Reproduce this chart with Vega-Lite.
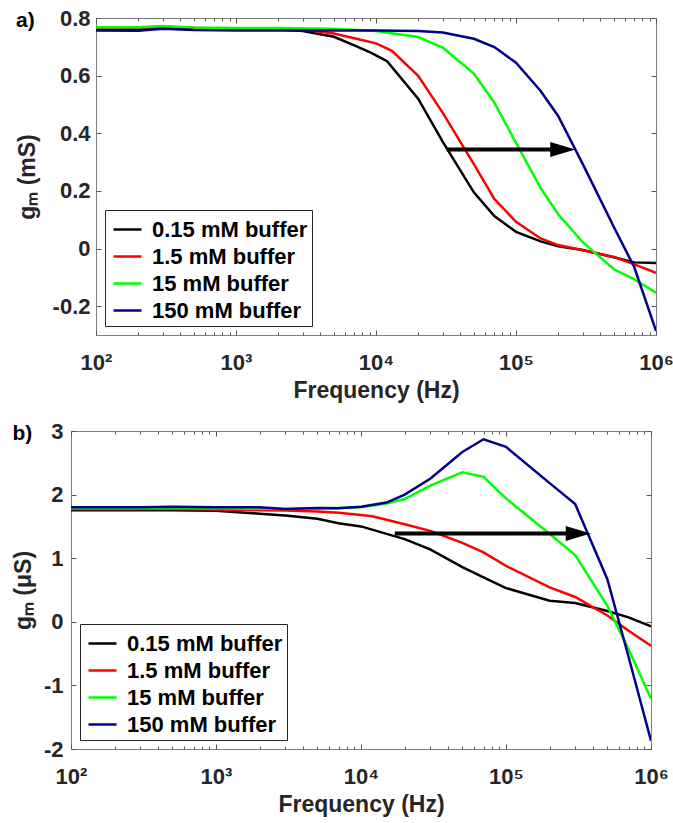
{
  "$schema": "https://vega.github.io/schema/vega-lite/v6.json",
  "padding": {"left": 11, "top": 6, "right": 0, "bottom": 5},
  "background": "white",
  "spacing": 16,
  "config": {
    "font": "Liberation Sans",
    "view": {"stroke": "#808080", "strokeWidth": 1},
    "axis": {"grid": false, "domain": false, "labelFont": "Liberation Sans", "labelFontWeight": "bold", "labelFontSize": 22, "labelColor": "#262626", "titleFont": "Liberation Sans", "titleFontWeight": "bold", "titleFontSize": 23, "titleColor": "#262626", "tickColor": "#555555", "labelOverlap": false, "labelFlush": false, "labelBound": false},
    "legend": {"orient": "bottom-left", "offset": 9, "strokeColor": "#262626", "fillColor": "white", "padding": 4, "labelFont": "Liberation Sans", "labelFontWeight": "bold", "labelFontSize": 22, "labelColor": "black", "symbolType": "stroke", "symbolSize": 784, "symbolStrokeWidth": 2.5, "rowPadding": 0, "labelOffset": 9, "symbolOffset": 3, "title": null, "labelLimit": 400}
  },
  "datasets": {
    "a": [
      {"s": "0.15 mM buffer", "f": 100, "v": 0.762}, {"s": "0.15 mM buffer", "f": 200, "v": 0.760}, {"s": "0.15 mM buffer", "f": 300, "v": 0.765}, {"s": "0.15 mM buffer", "f": 500, "v": 0.760}, {"s": "0.15 mM buffer", "f": 1000, "v": 0.760}, {"s": "0.15 mM buffer", "f": 2000, "v": 0.760}, {"s": "0.15 mM buffer", "f": 3000, "v": 0.755}, {"s": "0.15 mM buffer", "f": 5000, "v": 0.735}, {"s": "0.15 mM buffer", "f": 7000, "v": 0.705}, {"s": "0.15 mM buffer", "f": 9000, "v": 0.682}, {"s": "0.15 mM buffer", "f": 10000, "v": 0.670}, {"s": "0.15 mM buffer", "f": 12000, "v": 0.650}, {"s": "0.15 mM buffer", "f": 20000, "v": 0.520}, {"s": "0.15 mM buffer", "f": 30000, "v": 0.370}, {"s": "0.15 mM buffer", "f": 50000, "v": 0.195}, {"s": "0.15 mM buffer", "f": 70000, "v": 0.113}, {"s": "0.15 mM buffer", "f": 100000, "v": 0.058}, {"s": "0.15 mM buffer", "f": 150000, "v": 0.025}, {"s": "0.15 mM buffer", "f": 200000, "v": 0.008}, {"s": "0.15 mM buffer", "f": 300000, "v": -0.005}, {"s": "0.15 mM buffer", "f": 500000, "v": -0.030}, {"s": "0.15 mM buffer", "f": 700000, "v": -0.048}, {"s": "0.15 mM buffer", "f": 1000000, "v": -0.050},
      {"s": "1.5 mM buffer", "f": 100, "v": 0.765}, {"s": "1.5 mM buffer", "f": 300, "v": 0.768}, {"s": "1.5 mM buffer", "f": 1000, "v": 0.763}, {"s": "1.5 mM buffer", "f": 2000, "v": 0.762}, {"s": "1.5 mM buffer", "f": 3000, "v": 0.760}, {"s": "1.5 mM buffer", "f": 5000, "v": 0.746}, {"s": "1.5 mM buffer", "f": 7000, "v": 0.730}, {"s": "1.5 mM buffer", "f": 10000, "v": 0.712}, {"s": "1.5 mM buffer", "f": 13000, "v": 0.686}, {"s": "1.5 mM buffer", "f": 20000, "v": 0.599}, {"s": "1.5 mM buffer", "f": 30000, "v": 0.471}, {"s": "1.5 mM buffer", "f": 50000, "v": 0.293}, {"s": "1.5 mM buffer", "f": 70000, "v": 0.172}, {"s": "1.5 mM buffer", "f": 100000, "v": 0.093}, {"s": "1.5 mM buffer", "f": 150000, "v": 0.035}, {"s": "1.5 mM buffer", "f": 200000, "v": 0.012}, {"s": "1.5 mM buffer", "f": 300000, "v": -0.006}, {"s": "1.5 mM buffer", "f": 500000, "v": -0.029}, {"s": "1.5 mM buffer", "f": 700000, "v": -0.055}, {"s": "1.5 mM buffer", "f": 1000000, "v": -0.084},
      {"s": "15 mM buffer", "f": 100, "v": 0.768}, {"s": "15 mM buffer", "f": 200, "v": 0.768}, {"s": "15 mM buffer", "f": 300, "v": 0.772}, {"s": "15 mM buffer", "f": 500, "v": 0.767}, {"s": "15 mM buffer", "f": 1000, "v": 0.765}, {"s": "15 mM buffer", "f": 2000, "v": 0.765}, {"s": "15 mM buffer", "f": 5000, "v": 0.763}, {"s": "15 mM buffer", "f": 10000, "v": 0.755}, {"s": "15 mM buffer", "f": 20000, "v": 0.734}, {"s": "15 mM buffer", "f": 30000, "v": 0.697}, {"s": "15 mM buffer", "f": 50000, "v": 0.607}, {"s": "15 mM buffer", "f": 70000, "v": 0.506}, {"s": "15 mM buffer", "f": 100000, "v": 0.367}, {"s": "15 mM buffer", "f": 150000, "v": 0.210}, {"s": "15 mM buffer", "f": 200000, "v": 0.119}, {"s": "15 mM buffer", "f": 300000, "v": 0.022}, {"s": "15 mM buffer", "f": 500000, "v": -0.072}, {"s": "15 mM buffer", "f": 700000, "v": -0.107}, {"s": "15 mM buffer", "f": 1000000, "v": -0.153},
      {"s": "150 mM buffer", "f": 100, "v": 0.757}, {"s": "150 mM buffer", "f": 200, "v": 0.756}, {"s": "150 mM buffer", "f": 300, "v": 0.763}, {"s": "150 mM buffer", "f": 500, "v": 0.758}, {"s": "150 mM buffer", "f": 1000, "v": 0.757}, {"s": "150 mM buffer", "f": 3000, "v": 0.757}, {"s": "150 mM buffer", "f": 10000, "v": 0.757}, {"s": "150 mM buffer", "f": 20000, "v": 0.755}, {"s": "150 mM buffer", "f": 30000, "v": 0.750}, {"s": "150 mM buffer", "f": 50000, "v": 0.728}, {"s": "150 mM buffer", "f": 70000, "v": 0.699}, {"s": "150 mM buffer", "f": 100000, "v": 0.645}, {"s": "150 mM buffer", "f": 150000, "v": 0.547}, {"s": "150 mM buffer", "f": 200000, "v": 0.460}, {"s": "150 mM buffer", "f": 300000, "v": 0.293}, {"s": "150 mM buffer", "f": 500000, "v": 0.075}, {"s": "150 mM buffer", "f": 700000, "v": -0.065}, {"s": "150 mM buffer", "f": 1000000, "v": -0.286}
    ],
    "b": [
      {"s": "0.15 mM buffer", "f": 100, "v": 1.755}, {"s": "0.15 mM buffer", "f": 200, "v": 1.755}, {"s": "0.15 mM buffer", "f": 500, "v": 1.755}, {"s": "0.15 mM buffer", "f": 1000, "v": 1.745}, {"s": "0.15 mM buffer", "f": 2000, "v": 1.70}, {"s": "0.15 mM buffer", "f": 3000, "v": 1.67}, {"s": "0.15 mM buffer", "f": 5000, "v": 1.62}, {"s": "0.15 mM buffer", "f": 7000, "v": 1.55}, {"s": "0.15 mM buffer", "f": 10000, "v": 1.50}, {"s": "0.15 mM buffer", "f": 20000, "v": 1.30}, {"s": "0.15 mM buffer", "f": 30000, "v": 1.14}, {"s": "0.15 mM buffer", "f": 50000, "v": 0.86}, {"s": "0.15 mM buffer", "f": 70000, "v": 0.70}, {"s": "0.15 mM buffer", "f": 100000, "v": 0.53}, {"s": "0.15 mM buffer", "f": 200000, "v": 0.33}, {"s": "0.15 mM buffer", "f": 300000, "v": 0.295}, {"s": "0.15 mM buffer", "f": 500000, "v": 0.17}, {"s": "0.15 mM buffer", "f": 700000, "v": 0.07}, {"s": "0.15 mM buffer", "f": 1000000, "v": -0.07},
      {"s": "1.5 mM buffer", "f": 100, "v": 1.775}, {"s": "1.5 mM buffer", "f": 500, "v": 1.775}, {"s": "1.5 mM buffer", "f": 1000, "v": 1.765}, {"s": "1.5 mM buffer", "f": 2000, "v": 1.755}, {"s": "1.5 mM buffer", "f": 3000, "v": 1.75}, {"s": "1.5 mM buffer", "f": 5000, "v": 1.735}, {"s": "1.5 mM buffer", "f": 7000, "v": 1.715}, {"s": "1.5 mM buffer", "f": 10000, "v": 1.68}, {"s": "1.5 mM buffer", "f": 12000, "v": 1.66}, {"s": "1.5 mM buffer", "f": 20000, "v": 1.535}, {"s": "1.5 mM buffer", "f": 30000, "v": 1.43}, {"s": "1.5 mM buffer", "f": 50000, "v": 1.24}, {"s": "1.5 mM buffer", "f": 70000, "v": 1.09}, {"s": "1.5 mM buffer", "f": 100000, "v": 0.88}, {"s": "1.5 mM buffer", "f": 200000, "v": 0.54}, {"s": "1.5 mM buffer", "f": 300000, "v": 0.39}, {"s": "1.5 mM buffer", "f": 500000, "v": 0.10}, {"s": "1.5 mM buffer", "f": 700000, "v": -0.14}, {"s": "1.5 mM buffer", "f": 1000000, "v": -0.375},
      {"s": "15 mM buffer", "f": 100, "v": 1.785}, {"s": "15 mM buffer", "f": 1000, "v": 1.785}, {"s": "15 mM buffer", "f": 3000, "v": 1.775}, {"s": "15 mM buffer", "f": 5000, "v": 1.785}, {"s": "15 mM buffer", "f": 7000, "v": 1.79}, {"s": "15 mM buffer", "f": 10000, "v": 1.80}, {"s": "15 mM buffer", "f": 15000, "v": 1.86}, {"s": "15 mM buffer", "f": 20000, "v": 1.93}, {"s": "15 mM buffer", "f": 30000, "v": 2.14}, {"s": "15 mM buffer", "f": 50000, "v": 2.35}, {"s": "15 mM buffer", "f": 70000, "v": 2.28}, {"s": "15 mM buffer", "f": 100000, "v": 1.94}, {"s": "15 mM buffer", "f": 200000, "v": 1.38}, {"s": "15 mM buffer", "f": 300000, "v": 1.05}, {"s": "15 mM buffer", "f": 500000, "v": 0.25}, {"s": "15 mM buffer", "f": 700000, "v": -0.43}, {"s": "15 mM buffer", "f": 1000000, "v": -1.21},
      {"s": "150 mM buffer", "f": 100, "v": 1.80}, {"s": "150 mM buffer", "f": 300, "v": 1.80}, {"s": "150 mM buffer", "f": 500, "v": 1.81}, {"s": "150 mM buffer", "f": 1000, "v": 1.80}, {"s": "150 mM buffer", "f": 2000, "v": 1.80}, {"s": "150 mM buffer", "f": 3000, "v": 1.775}, {"s": "150 mM buffer", "f": 5000, "v": 1.79}, {"s": "150 mM buffer", "f": 7000, "v": 1.785}, {"s": "150 mM buffer", "f": 10000, "v": 1.81}, {"s": "150 mM buffer", "f": 15000, "v": 1.875}, {"s": "150 mM buffer", "f": 20000, "v": 2.00}, {"s": "150 mM buffer", "f": 30000, "v": 2.25}, {"s": "150 mM buffer", "f": 50000, "v": 2.67}, {"s": "150 mM buffer", "f": 70000, "v": 2.87}, {"s": "150 mM buffer", "f": 100000, "v": 2.75}, {"s": "150 mM buffer", "f": 200000, "v": 2.18}, {"s": "150 mM buffer", "f": 300000, "v": 1.85}, {"s": "150 mM buffer", "f": 500000, "v": 0.67}, {"s": "150 mM buffer", "f": 700000, "v": -0.55}, {"s": "150 mM buffer", "f": 1000000, "v": -1.87}
    ],
    "arrA": [{"x1": 32000, "xb": 180000, "xt": 265000, "y": 0.344}],
    "arrB": [{"x1": 17100, "xb": 262000, "xt": 384000, "y": 1.39}]
  },
  "vconcat": [
    {
      "spacing": -57,
      "hconcat": [
        {"width": 1, "height": 1, "data": {"values": []}, "mark": {"type": "point", "opacity": 0}, "view": {"stroke": null}},
        {
          "width": 560,
          "height": 317,
          "title": {"text": "a)", "anchor": "start", "frame": "bounds", "fontSize": 21, "fontWeight": "bold", "font": "Liberation Sans", "color": "black", "offset": 0, "dy": 24},
          "layer": [
            {
              "data": {"name": "a"},
              "mark": {"type": "line", "strokeWidth": 2.5, "clip": true},
              "encoding": {
                "x": {"field": "f", "type": "quantitative", "scale": {"type": "log", "domain": [100, 1000000], "nice": false},
                  "axis": {"orient": "bottom", "title": "Frequency (Hz)", "values": [100,200,300,400,500,600,700,800,900,1000,2000,3000,4000,5000,6000,7000,8000,9000,10000,20000,30000,40000,50000,60000,70000,80000,90000,100000,200000,300000,400000,500000,600000,700000,800000,900000,1000000],
                    "labelExpr": "datum.value == 100 ? '10²' : datum.value == 1000 ? '10³' : datum.value == 10000 ? '10⁴' : datum.value == 100000 ? '10⁵' : datum.value == 1000000 ? '10⁶' : ''",
                    "tickSize": {"condition": {"test": "datum.value == 100 || datum.value == 1000 || datum.value == 10000 || datum.value == 100000 || datum.value == 1000000", "value": -5}, "value": -3},
                    "labelPadding": 22, "titlePadding": 4}},
                "y": {"field": "v", "type": "quantitative", "scale": {"domain": [-0.3, 0.8], "nice": false, "zero": false},
                  "axis": {"orient": "left", "title": "gₘ (mS)", "values": [-0.2, 0, 0.2, 0.4, 0.6, 0.8],
                    "labelExpr": "datum.value < 0 ? '-' + format(-datum.value, '.1f') : datum.value == 0 ? '0' : format(datum.value, '.1f')",
                    "tickSize": -5, "labelPadding": 11, "titlePadding": 13}},
                "color": {"field": "s", "type": "nominal", "sort": null,
                  "scale": {"domain": ["0.15 mM buffer", "1.5 mM buffer", "15 mM buffer", "150 mM buffer"], "range": ["#000000", "#ff0000", "#00ff00", "#00008c"]}}
              }
            },
            {
              "data": {"name": "arrA"},
              "mark": {"type": "rule", "strokeWidth": 4, "color": "black", "strokeCap": "butt"},
              "encoding": {
                "x": {"field": "x1", "type": "quantitative",
                  "axis": {"orient": "top", "title": null, "labels": false, "values": [100,200,300,400,500,600,700,800,900,1000,2000,3000,4000,5000,6000,7000,8000,9000,10000,20000,30000,40000,50000,60000,70000,80000,90000,100000,200000,300000,400000,500000,600000,700000,800000,900000,1000000],
                    "tickSize": {"condition": {"test": "datum.value == 100 || datum.value == 1000 || datum.value == 10000 || datum.value == 100000 || datum.value == 1000000", "value": -5}, "value": -3}}},
                "x2": {"field": "xb"},
                "y": {"field": "y", "type": "quantitative",
                  "axis": {"orient": "right", "title": null, "labels": false, "values": [-0.2, 0, 0.2, 0.4, 0.6, 0.8], "tickSize": -5}}
              }
            },
            {
              "data": {"name": "arrA"},
              "mark": {"type": "point", "shape": "M0,0L-2,-0.6L-2,0.6Z", "size": 625, "filled": true, "color": "black", "opacity": 1},
              "encoding": {
                "x": {"field": "xt", "type": "quantitative", "axis": null},
                "y": {"field": "y", "type": "quantitative", "axis": null}
              }
            }
          ],
          "resolve": {"axis": {"x": "independent", "y": "independent"}}
        }
      ],
      "resolve": {"scale": {"color": "independent"}, "legend": {"color": "independent"}}
    },
    {
      "width": 580,
      "height": 318,
      "title": {"text": "b)", "anchor": "start", "frame": "bounds", "fontSize": 21, "fontWeight": "bold", "font": "Liberation Sans", "color": "black", "offset": 0, "dy": 24},
      "layer": [
        {
          "data": {"name": "b"},
          "mark": {"type": "line", "strokeWidth": 2.5, "clip": true},
          "encoding": {
            "x": {"field": "f", "type": "quantitative", "scale": {"type": "log", "domain": [100, 1000000], "nice": false},
              "axis": {"orient": "bottom", "title": "Frequency (Hz)", "values": [100,200,300,400,500,600,700,800,900,1000,2000,3000,4000,5000,6000,7000,8000,9000,10000,20000,30000,40000,50000,60000,70000,80000,90000,100000,200000,300000,400000,500000,600000,700000,800000,900000,1000000],
                "labelExpr": "datum.value == 100 ? '10²' : datum.value == 1000 ? '10³' : datum.value == 10000 ? '10⁴' : datum.value == 100000 ? '10⁵' : datum.value == 1000000 ? '10⁶' : ''",
                "tickSize": {"condition": {"test": "datum.value == 100 || datum.value == 1000 || datum.value == 10000 || datum.value == 100000 || datum.value == 1000000", "value": -5}, "value": -3},
                "labelPadding": 22, "titlePadding": 4}},
            "y": {"field": "v", "type": "quantitative", "scale": {"domain": [-2, 3], "nice": false, "zero": false},
              "axis": {"orient": "left", "title": "gₘ (μS)", "values": [-2, -1, 0, 1, 2, 3],
                "labelExpr": "datum.value < 0 ? '-' + format(-datum.value, 'd') : format(datum.value, 'd')",
                "tickSize": -5, "labelPadding": 13, "titlePadding": 8}},
            "color": {"field": "s", "type": "nominal", "sort": null,
              "scale": {"domain": ["0.15 mM buffer", "1.5 mM buffer", "15 mM buffer", "150 mM buffer"], "range": ["#000000", "#ff0000", "#00ff00", "#00008c"]}}
          }
        },
        {
          "data": {"name": "arrB"},
          "mark": {"type": "rule", "strokeWidth": 4, "color": "black", "strokeCap": "butt"},
          "encoding": {
            "x": {"field": "x1", "type": "quantitative",
              "axis": {"orient": "top", "title": null, "labels": false, "values": [100,200,300,400,500,600,700,800,900,1000,2000,3000,4000,5000,6000,7000,8000,9000,10000,20000,30000,40000,50000,60000,70000,80000,90000,100000,200000,300000,400000,500000,600000,700000,800000,900000,1000000],
                "tickSize": {"condition": {"test": "datum.value == 100 || datum.value == 1000 || datum.value == 10000 || datum.value == 100000 || datum.value == 1000000", "value": -5}, "value": -3}}},
            "x2": {"field": "xb"},
            "y": {"field": "y", "type": "quantitative",
              "axis": {"orient": "right", "title": null, "labels": false, "values": [-2, -1, 0, 1, 2, 3], "tickSize": -5}}
          }
        },
        {
          "data": {"name": "arrB"},
          "mark": {"type": "point", "shape": "M0,0L-2,-0.6L-2,0.6Z", "size": 625, "filled": true, "color": "black", "opacity": 1},
          "encoding": {
            "x": {"field": "xt", "type": "quantitative", "axis": null},
            "y": {"field": "y", "type": "quantitative", "axis": null}
          }
        }
      ],
      "resolve": {"axis": {"x": "independent", "y": "independent"}}
    }
  ],
  "resolve": {"scale": {"color": "independent"}, "legend": {"color": "independent"}}
}
